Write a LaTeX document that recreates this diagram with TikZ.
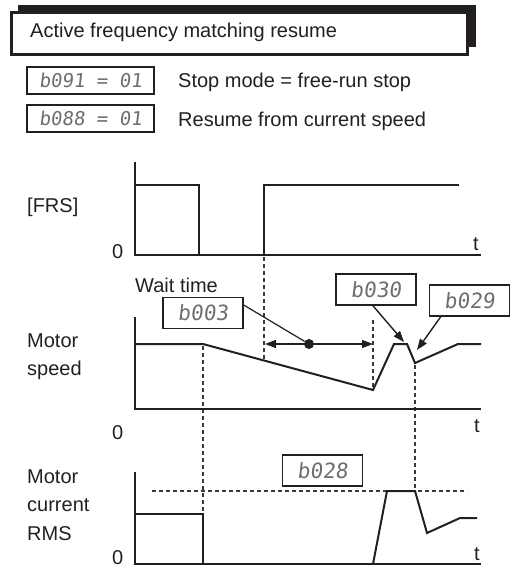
\documentclass[tikz,border=0pt]{standalone}
\usepackage{fontspec}
\setmainfont{Liberation Sans}
\newfontfamily\segfont[FakeSlant=0.12]{DejaVu Sans Mono}
\usetikzlibrary{arrows.meta}
\definecolor{ink}{HTML}{231F20}
\definecolor{segc}{HTML}{6D6E71}
\definecolor{guidec}{HTML}{3A3A3A}
\begin{document}
\begin{tikzpicture}[x=1pt,y=-1pt,
  lbl/.style={anchor=base west, inner sep=0pt, font=\fontsize{20}{24}\selectfont, text=ink},
  axisline/.style={line width=2pt, draw=ink},
  sig/.style={line width=2pt, draw=ink, line join=miter},
  guide/.style={dash pattern=on 4pt off 3pt, line width=1.2pt, draw=guidec},
  hbox/.style={draw=ink, line width=1.6pt, fill=white, inner sep=0pt, text=segc,
    minimum width=127pt, minimum height=27pt, font=\segfont\fontsize{19}{21}\selectfont},
  pbox/.style={draw=ink, line width=1.6pt, fill=white, inner sep=0pt, text=segc,
    minimum width=80pt, minimum height=31pt, font=\segfont\fontsize{21}{23}\selectfont},
  lead/.style={line width=1.4pt, draw=ink, -{Triangle[length=11pt,width=8pt]}},
]
\useasboundingbox (0,0) rectangle (513,567);

% ---- title box with shadow
\fill[ink] (18,5) rectangle (476,47);
\draw[ink, line width=3pt, fill=white] (11,13) rectangle (467,55);
\node[lbl] (title) at (30,38) {Active frequency matching resume};

% ---- setting boxes
\node[hbox] (h1) at (90.5,80.5) {b091 = 01};
\node[hbox] (h2) at (90.5,118.5) {b088 = 01};
\node[lbl] (t1) at (178,88) {Stop mode = free-run stop};
\node[lbl] (t2) at (178,126) {Resume from current speed};

% ---- [FRS] plot
\node[lbl] (lfrs) at (27,212) {[FRS]};
\node[lbl] (z1) at (112,258) {0};
\node[lbl] (tt1) at (473,250) {t};
\draw[axisline] (135,162) -- (135,255) -- (481,255);
\draw[sig] (135,185) -- (199,185) -- (199,255);
\draw[sig] (264,255) -- (264,185) -- (459,185);

% ---- guide lines
\draw[guide] (264,257) -- (264,361);
\draw[guide] (373,320) -- (373,390);
\draw[guide] (203,346) -- (203,564);
\draw[guide] (415,365) -- (415,491);
\draw[guide] (152,491) -- (467,491);

% ---- Motor speed plot
\node[lbl] (lms1) at (27,347) {Motor};
\node[lbl] (lms2) at (27,375) {speed};
\node[lbl] (z2) at (112,439) {0};
\node[lbl] (tt2) at (474,432) {t};
\node[lbl] (wait) at (135,292) {Wait time};
\draw[axisline] (135,317) -- (135,409) -- (481,409);
\draw[sig] (135,344) -- (203,344) -- (373,390) -- (394,344) -- (407,344)
  -- (415,363) -- (458,344) -- (481,344);

\coordinate (wl) at (265,344);
\coordinate (wr) at (373,344);
\draw[line width=1.4pt, draw=ink, {Triangle[length=11pt,width=8pt]}-{Triangle[length=11pt,width=8pt]}] (wl) -- (wr);
\node[circle, fill=ink, inner sep=0pt, minimum size=10pt] (dot) at (309,344) {};

\node[pbox] (b003) at (203,313) {b003};
\draw[line width=1.2pt, draw=ink] (b003.11) -- (dot);

\node[pbox] (b030) at (376,289.5) {b030};
\coordinate (p030) at (404,342);
\draw[lead] ([xshift=-3pt]b030.south) -- (p030);

\node[pbox] (b029) at (469.5,300.5) {b029};
\coordinate (p029) at (417,350);
\draw[lead] ([xshift=12pt]b029.south west) -- (p029);

% ---- Motor current plot
\node[lbl] (lmc1) at (27,483) {Motor};
\node[lbl] (lmc2) at (27,511) {current};
\node[lbl] (lmc3) at (27,540) {RMS};
\node[lbl] (z3) at (112,564) {0};
\node[lbl] (tt3) at (474,560) {t};
\draw[axisline] (135,472) -- (135,564) -- (481,564);
\draw[sig] (135,514) -- (203,514) -- (203,564);
\draw[sig] (373,564) -- (387,491) -- (415,491) -- (427,533) -- (460,518) -- (477,518);
\node[pbox] (b028) at (322.5,470.5) {b028};

\end{tikzpicture}
\end{document}
